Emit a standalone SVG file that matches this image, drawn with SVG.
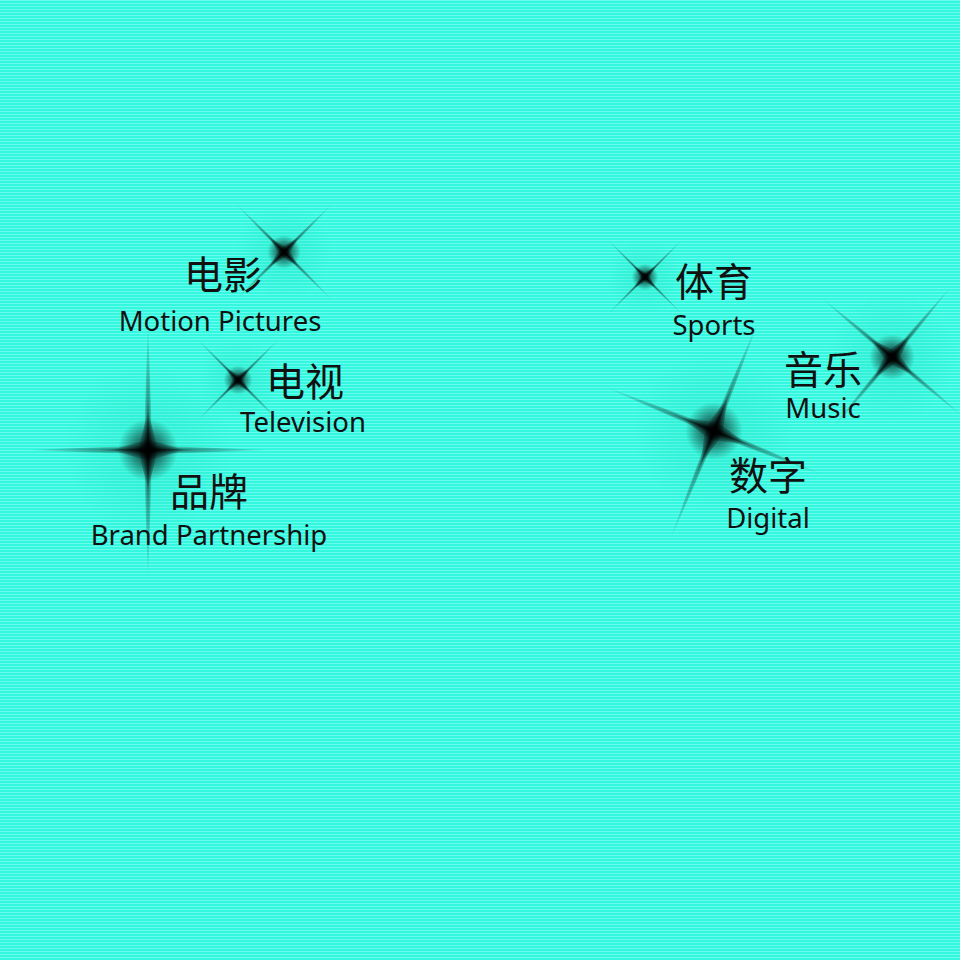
<svg xmlns="http://www.w3.org/2000/svg" width="960" height="960" viewBox="0 0 960 960">
<defs>
<pattern id="bg" width="10" height="3" patternUnits="userSpaceOnUse">
<rect width="10" height="3" fill="#33f7df"/>
<rect width="10" height="1" fill="#6afcea"/>
</pattern>
<radialGradient id="arm"><stop offset="0" stop-color="#000" stop-opacity="0.9"/><stop offset="0.4" stop-color="#000" stop-opacity="0.35"/><stop offset="1" stop-color="#000" stop-opacity="0"/></radialGradient>
<radialGradient id="core"><stop offset="0" stop-color="#000" stop-opacity="1"/><stop offset="0.35" stop-color="#000" stop-opacity="0.55"/><stop offset="1" stop-color="#000" stop-opacity="0"/></radialGradient>
<radialGradient id="halo"><stop offset="0" stop-color="#2ee8cc" stop-opacity="0.6"/><stop offset="1" stop-color="#2ee8cc" stop-opacity="0"/></radialGradient>
<g id="star">
<circle r="70" fill="url(#halo)"/>
<polygon points="0,-100 3.5,0 0,100 -3.5,0" fill="url(#arm)"/>
<polygon points="-100,0 0,3.5 100,0 0,-3.5" fill="url(#arm)"/>
<polygon points="0,-30 8,0 0,30 -8,0" fill="url(#core)"/>
<polygon points="-30,0 0,8 30,0 0,-8" fill="url(#core)"/>
<circle r="24" fill="url(#core)"/>
</g>
<style>
.zh{font-family:"Noto Sans CJK SC",sans-serif;font-size:39px;fill:#111;text-anchor:middle}
.en{font-family:"Noto Sans","Open Sans",sans-serif;font-size:27.5px;fill:#111;text-anchor:middle}
</style>
</defs>
<rect width="960" height="960" fill="url(#bg)"/>
<g id="stars">
<use href="#star" transform="translate(284,252) rotate(45) scale(0.7)"/>
<use href="#star" transform="translate(238,380) rotate(45) scale(0.6)"/>
<use href="#star" transform="translate(148,450) scale(1.25,1.3)"/>
<use href="#star" transform="translate(645,277) rotate(45) scale(0.55)"/>
<use href="#star" transform="translate(892,357) rotate(40) scale(0.95)"/>
<use href="#star" transform="translate(714,431) rotate(22) scale(1.2)"/>
</g>
<g id="n1"><text class="zh" x="223" y="289">电影</text><text class="en" x="220" y="331">Motion Pictures</text></g>
<g id="n2"><text class="zh" x="305" y="396">电视</text><text class="en" x="303" y="432">Television</text></g>
<g id="n3"><text class="zh" x="209" y="506">品牌</text><text class="en" x="209" y="545">Brand Partnership</text></g>
<g id="n4"><text class="zh" x="714" y="296">体育</text><text class="en" x="714" y="335">Sports</text></g>
<g id="n5"><text class="zh" x="823" y="384">音乐</text><text class="en" x="823" y="418">Music</text></g>
<g id="n6"><text class="zh" x="768" y="490">数字</text><text class="en" x="768" y="528">Digital</text></g>
</svg>
